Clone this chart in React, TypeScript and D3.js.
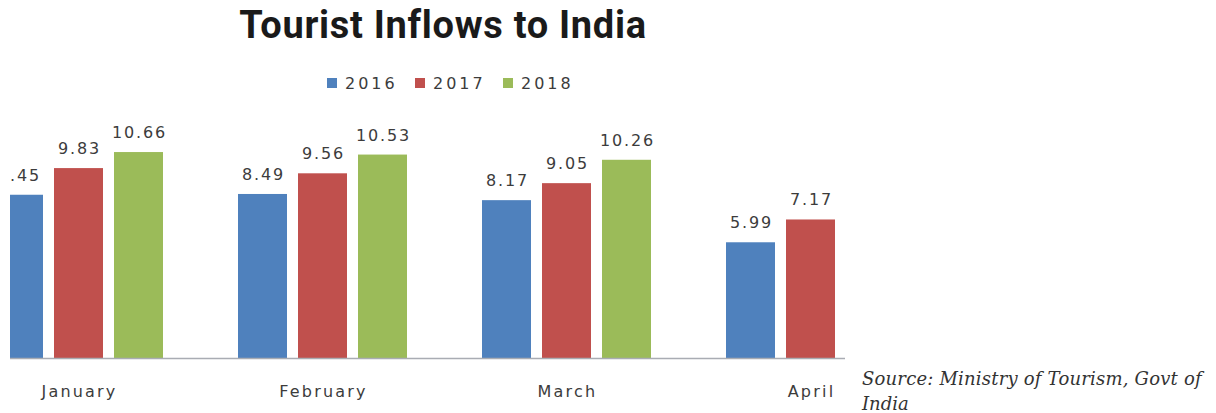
import React from "react";
import * as d3 from "d3";

const months = ["January", "February", "March", "April"];
const years = ["2016", "2017", "2018"];
const values2016: (number | null)[] = [8.45, 8.49, 8.17, 5.99];
const values2017: (number | null)[] = [9.83, 9.56, 9.05, 7.17];
const values2018: (number | null)[] = [10.66, 10.53, 10.26, null];
const seriesValues = [values2016, values2017, values2018];
const colors = ["#4F81BD", "#C0504D", "#9BBB59"];
const yTicks = [0, 12];

const W = 1216;
const H = 413;
const baseY = 358;

export default function App() {
  const y = d3.scaleLinear().domain([yTicks[0], yTicks[1]]).range([baseY, baseY - 12 * 19.32]);
  const x0 = d3
    .scaleBand<string>()
    .domain(months)
    .range([-43.5, 932.5])
    .paddingInner(75 / 244)
    .paddingOuter(37.5 / 244);
  const x1 = d3
    .scaleBand<string>()
    .domain(years)
    .range([0, x0.bandwidth()])
    .paddingInner(11 / 60);

  const labelFont = "DejaVu Sans, Verdana, sans-serif";

  return (
    <svg
      width={W}
      height={H}
      style={{ position: "absolute", left: 0, top: 0, background: "#fff" }}
    >
      <defs>
        <clipPath id="plotClip">
          <rect x={10} y={0} width={W - 10} height={H} />
        </clipPath>
      </defs>
      <text
        x={443}
        y={38}
        textAnchor="middle"
        fontFamily="Roboto, Lato, sans-serif"
        fontWeight={700}
        fontSize={38}
        letterSpacing={0.7}
        fill="#1a1a1a"
      >
        Tourist Inflows to India
      </text>
      <g fontFamily={labelFont} fontSize={16} fill="#3c3c3c">
        {years.map((yr, i) => (
          <g key={yr} transform={`translate(${327 + i * 88},0)`}>
            <rect x={0} y={78} width={10} height={10} fill={colors[i]} />
            <text x={18} y={89} letterSpacing={3}>
              {yr}
            </text>
          </g>
        ))}
      </g>
      <g clipPath="url(#plotClip)">
        {months.map((m, mi) => (
          <g key={m} transform={`translate(${x0(m)},0)`}>
            {years.map((yr, yi) => {
              const v = seriesValues[yi][mi];
              if (v == null) return null;
              const bx = x1(yr)!;
              const bw = x1.bandwidth();
              return (
                <g key={yr}>
                  <rect x={bx} y={y(v)} width={bw} height={baseY - y(v)} fill={colors[yi]} />
                  <text
                    x={bx + bw / 2 + 1}
                    y={y(v) - 14}
                    textAnchor="middle"
                    fontFamily={labelFont}
                    fontSize={16}
                    letterSpacing={1.8}
                    fill="#3c3c3c"
                  >
                    {v.toFixed(2)}
                  </text>
                </g>
              );
            })}
          </g>
        ))}
        <line x1={10} x2={845} y1={baseY + 0.5} y2={baseY + 0.5} stroke="#a9acb3" strokeWidth={1.5} />
      </g>
      <g fontFamily={labelFont} fontSize={16} fill="#3c3c3c">
        {months.map((m) => (
          <text
            key={m}
            x={x0(m)! + x0.bandwidth() / 2 + 1}
            y={397}
            textAnchor="middle"
            letterSpacing={2.2}
          >
            {m}
          </text>
        ))}
      </g>
      <g fontFamily="'DejaVu Serif', serif" fontStyle="italic" fontSize={18} fill="#333">
        <text x={862} y={385} letterSpacing={0.2}>
          Source: Ministry of Tourism, Govt of
        </text>
        <text x={862} y={410}>
          India
        </text>
      </g>
    </svg>
  );
}
